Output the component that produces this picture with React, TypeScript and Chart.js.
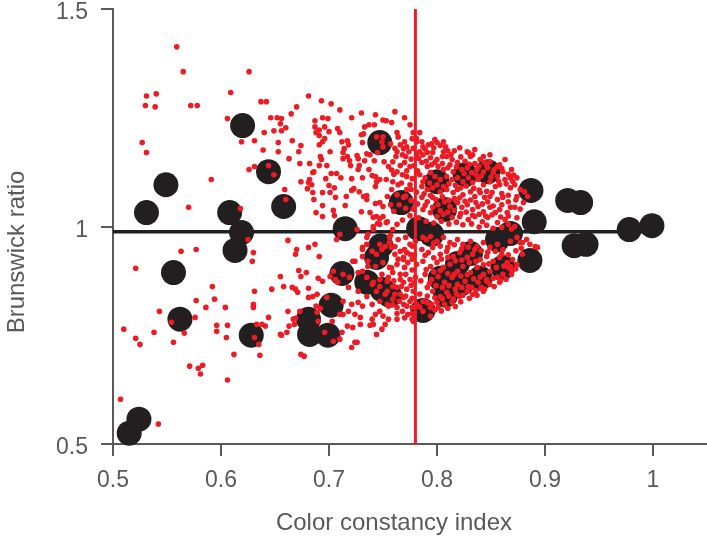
import React, { useEffect, useRef } from "react";
import { Chart, registerables } from "chart.js";

Chart.register(...registerables);

const X_TITLE = "Color constancy index";
const Y_TITLE = "Brunswick ratio";
const xTicks = [0.5, 0.6, 0.7, 0.8, 0.9, 1];
const yTicks = [0.5, 1, 1.5];
const xRange = [0.5, 1.05];
const yRange = [0.5, 1.5];
const criterionX = 0.78;
const meanRatio = 0.988;
const meanSpan = [0.5, 1.0];

// large black circles (individual observers)
const bigCircles: number[][] = [
  [0.515, 0.525], [0.524, 0.557], [0.531, 1.032], [0.549, 1.096], [0.556, 0.894], [0.562, 0.787],
  [0.620, 1.232], [0.608, 1.032], [0.619, 0.986], [0.613, 0.945], [0.628, 0.750], [0.644, 1.126],
  [0.658, 1.046], [0.681, 0.787], [0.682, 0.752], [0.699, 0.750], [0.702, 0.819], [0.712, 0.892],
  [0.715, 0.995], [0.735, 0.872], [0.744, 0.929], [0.749, 0.855], [0.747, 1.193], [0.748, 0.956],
  [0.756, 0.842], [0.767, 1.055], [0.783, 0.995], [0.787, 0.807], [0.795, 0.982], [0.800, 1.103],
  [0.807, 1.039], [0.808, 0.842], [0.803, 0.881], [0.819, 0.915], [0.823, 0.869], [0.831, 0.938],
  [0.826, 1.119], [0.847, 1.126], [0.840, 0.881], [0.856, 0.970], [0.861, 0.906], [0.868, 0.984],
  [0.886, 0.922], [0.890, 1.011], [0.887, 1.083], [0.921, 1.060], [0.933, 1.055], [0.927, 0.956],
  [0.938, 0.959], [0.978, 0.993], [0.999, 1.002],
];

// small red dots, sparse left part
const redDotsLeft: number[][] = [
  [0.559, 1.413], [0.565, 1.356], [0.531, 1.300], [0.540, 1.305], [0.530, 1.278], [0.539, 1.275],
  [0.572, 1.278], [0.578, 1.278], [0.609, 1.308], [0.606, 1.248], [0.619, 1.195], [0.626, 1.356],
  [0.527, 1.193], [0.531, 1.170], [0.591, 1.108], [0.626, 1.131], [0.570, 1.044], [0.618, 1.041],
  [0.563, 0.943], [0.577, 0.947], [0.521, 0.904], [0.592, 0.862], [0.577, 0.830], [0.594, 0.833],
  [0.543, 0.805], [0.586, 0.814], [0.604, 0.814], [0.576, 0.791], [0.554, 0.780], [0.510, 0.764],
  [0.538, 0.757], [0.566, 0.755], [0.596, 0.773], [0.596, 0.759], [0.606, 0.773], [0.521, 0.743],
  [0.525, 0.729], [0.556, 0.734], [0.605, 0.745], [0.612, 0.706], [0.571, 0.679], [0.579, 0.674],
  [0.583, 0.681], [0.581, 0.661], [0.606, 0.647], [0.507, 0.603], [0.542, 0.546], [0.625, 0.970],
  [0.630, 0.940], [0.629, 0.920], [0.631, 0.851], [0.630, 0.821], [0.630, 0.814], [0.633, 0.775],
  [0.631, 0.745], [0.635, 0.729], [0.636, 0.704],
];

// small red dots, upper middle part
const redDotsUpper: number[][] = [
  [0.681, 1.300], [0.637, 1.287], [0.642, 1.287], [0.670, 1.275], [0.693, 1.289], [0.702, 1.282],
  [0.665, 1.259], [0.646, 1.250], [0.652, 1.250], [0.656, 1.248], [0.655, 1.236], [0.649, 1.220],
  [0.656, 1.220], [0.660, 1.227], [0.640, 1.216], [0.631, 1.197], [0.653, 1.193], [0.666, 1.197],
  [0.674, 1.186], [0.639, 1.176], [0.653, 1.172], [0.672, 1.172], [0.663, 1.156], [0.673, 1.145],
  [0.631, 1.138], [0.644, 1.140], [0.649, 1.119], [0.659, 1.085], [0.660, 1.062], [0.687, 1.243],
  [0.687, 1.229], [0.691, 1.222], [0.694, 1.250], [0.699, 1.248], [0.696, 1.229], [0.700, 1.218],
  [0.688, 1.216], [0.691, 1.209], [0.696, 1.202], [0.694, 1.195], [0.691, 1.188], [0.708, 1.225],
  [0.710, 1.216], [0.701, 1.172], [0.712, 1.195], [0.717, 1.197], [0.718, 1.188], [0.714, 1.179],
  [0.713, 1.170], [0.692, 1.161], [0.693, 1.154], [0.698, 1.140], [0.686, 1.126], [0.682, 1.108],
  [0.681, 1.101], [0.684, 1.096], [0.697, 1.110], [0.702, 1.122], [0.700, 1.094], [0.705, 1.089],
  [0.694, 1.078], [0.701, 1.078], [0.707, 1.122], [0.711, 1.112], [0.713, 1.156], [0.717, 1.161],
  [0.719, 1.151], [0.720, 1.140], [0.721, 1.110], [0.723, 1.087], [0.716, 1.069], [0.706, 1.067],
  [0.686, 1.062], [0.694, 1.048], [0.704, 1.037], [0.705, 1.025], [0.715, 1.048], [0.688, 1.032],
  [0.694, 1.023], [0.730, 1.261], [0.733, 1.229], [0.737, 1.234], [0.742, 1.234], [0.743, 1.257],
  [0.750, 1.245], [0.753, 1.243], [0.730, 1.211], [0.732, 1.213], [0.731, 1.193], [0.726, 1.163],
  [0.727, 1.156], [0.728, 1.140], [0.727, 1.131], [0.731, 1.112], [0.735, 1.167], [0.738, 1.165],
  [0.733, 1.151], [0.737, 1.131], [0.740, 1.117], [0.743, 1.115], [0.744, 1.103], [0.747, 1.108],
  [0.753, 1.108], [0.743, 1.092], [0.721, 1.083], [0.728, 1.080], [0.732, 1.069], [0.735, 1.071],
  [0.730, 1.034], [0.743, 1.053], [0.747, 1.055], [0.750, 1.046], [0.741, 1.021], [0.744, 1.023],
  [0.747, 1.018], [0.750, 1.023], [0.753, 1.009], [0.745, 1.007], [0.741, 1.000], [0.754, 1.069],
  [0.744, 1.206], [0.750, 1.206], [0.749, 1.195], [0.750, 1.183], [0.745, 1.170], [0.751, 1.149],
  [0.755, 1.138], [0.742, 1.151], [0.682, 1.145], [0.691, 1.140], [0.685, 1.124], [0.674, 1.103],
  [0.680, 1.087], [0.685, 1.078], [0.735, 1.062], [0.738, 1.032], [0.761, 1.264], [0.770, 1.250],
  [0.775, 1.234], [0.710, 1.268], [0.721, 1.250],
];

// small red dots, dense upper-right part
const redDotsDenseUpper: number[][] = [
  [0.758, 1.239], [0.763, 1.216], [0.764, 1.206], [0.778, 1.216], [0.777, 1.202], [0.781, 1.202],
  [0.781, 1.195], [0.786, 1.195], [0.787, 1.183], [0.792, 1.188], [0.795, 1.190], [0.800, 1.193],
  [0.803, 1.186], [0.808, 1.183], [0.810, 1.174], [0.816, 1.174], [0.772, 1.183], [0.769, 1.179],
  [0.763, 1.172], [0.762, 1.161], [0.768, 1.165], [0.771, 1.161], [0.784, 1.172], [0.781, 1.165],
  [0.787, 1.165], [0.791, 1.170], [0.796, 1.170], [0.794, 1.158], [0.800, 1.154], [0.805, 1.161],
  [0.809, 1.161], [0.814, 1.154], [0.819, 1.147], [0.829, 1.170], [0.831, 1.161], [0.833, 1.165],
  [0.840, 1.154], [0.844, 1.147], [0.849, 1.149], [0.856, 1.138], [0.759, 1.149], [0.770, 1.147],
  [0.775, 1.138], [0.786, 1.147], [0.791, 1.138], [0.795, 1.142], [0.801, 1.138], [0.806, 1.131],
  [0.810, 1.135], [0.815, 1.126], [0.823, 1.131], [0.828, 1.135], [0.832, 1.124], [0.837, 1.131],
  [0.843, 1.126], [0.847, 1.135], [0.852, 1.124], [0.856, 1.115], [0.861, 1.126], [0.863, 1.108],
  [0.868, 1.112], [0.763, 1.126], [0.768, 1.119], [0.772, 1.115], [0.784, 1.119], [0.789, 1.112],
  [0.794, 1.124], [0.798, 1.115], [0.803, 1.108], [0.809, 1.115], [0.814, 1.108], [0.819, 1.112],
  [0.824, 1.103], [0.829, 1.112], [0.833, 1.101], [0.838, 1.108], [0.843, 1.096], [0.849, 1.103],
  [0.854, 1.092], [0.858, 1.096], [0.868, 1.089], [0.872, 1.096], [0.759, 1.103], [0.764, 1.096],
  [0.775, 1.096], [0.772, 1.085], [0.786, 1.092], [0.791, 1.085], [0.796, 1.089], [0.803, 1.080],
  [0.809, 1.085], [0.815, 1.078], [0.819, 1.085], [0.824, 1.073], [0.831, 1.080], [0.835, 1.069],
  [0.840, 1.078], [0.844, 1.067], [0.849, 1.069], [0.856, 1.062], [0.861, 1.067], [0.866, 1.057],
  [0.763, 1.073], [0.769, 1.067], [0.786, 1.067], [0.791, 1.057], [0.796, 1.067], [0.801, 1.050],
  [0.807, 1.057], [0.812, 1.046], [0.819, 1.055], [0.823, 1.044], [0.828, 1.050], [0.833, 1.039],
  [0.838, 1.046], [0.843, 1.034], [0.849, 1.044], [0.854, 1.032], [0.858, 1.039], [0.865, 1.032],
  [0.872, 1.044], [0.787, 1.039], [0.794, 1.032], [0.800, 1.023], [0.806, 1.028], [0.814, 1.021],
  [0.821, 1.023], [0.829, 1.016], [0.835, 1.023], [0.842, 1.011], [0.847, 1.021], [0.856, 1.009],
  [0.863, 1.016], [0.881, 1.080], [0.884, 1.069], [0.784, 1.216], [0.798, 1.200], [0.806, 1.195],
  [0.828, 1.172], [0.843, 1.161], [0.858, 1.142], [0.821, 1.181], [0.835, 1.177], [0.849, 1.165],
  [0.863, 1.154], [0.869, 1.131], [0.874, 1.112], [0.877, 1.085], [0.874, 1.069], [0.880, 1.055],
  [0.872, 1.000], [0.866, 1.005],
  [0.789, 1.178], [0.797, 1.181], [0.806, 1.172], [0.813, 1.165], [0.822, 1.160], [0.826, 1.150],
  [0.835, 1.145], [0.839, 1.139], [0.846, 1.140], [0.853, 1.131], [0.860, 1.133], [0.866, 1.120],
  [0.871, 1.118], [0.783, 1.157], [0.790, 1.150], [0.798, 1.147], [0.805, 1.145], [0.812, 1.142],
  [0.818, 1.137], [0.825, 1.122], [0.830, 1.143], [0.836, 1.119], [0.841, 1.116], [0.850, 1.113],
  [0.857, 1.104], [0.864, 1.098], [0.870, 1.104], [0.782, 1.128], [0.787, 1.103], [0.793, 1.100],
  [0.800, 1.096], [0.806, 1.092], [0.811, 1.098], [0.817, 1.095], [0.822, 1.089], [0.827, 1.093],
  [0.834, 1.088], [0.839, 1.084], [0.846, 1.081], [0.851, 1.078], [0.860, 1.076], [0.866, 1.072],
  [0.873, 1.061], [0.781, 1.079], [0.788, 1.075], [0.794, 1.071], [0.799, 1.062], [0.805, 1.068],
  [0.811, 1.060], [0.816, 1.064], [0.821, 1.066], [0.826, 1.058], [0.831, 1.061], [0.836, 1.055],
  [0.842, 1.052], [0.847, 1.057], [0.852, 1.047], [0.860, 1.050], [0.868, 1.044], [0.877, 1.040],
  [0.782, 1.052], [0.789, 1.048], [0.796, 1.044], [0.803, 1.036], [0.810, 1.033], [0.816, 1.037],
  [0.822, 1.030], [0.827, 1.033], [0.833, 1.026], [0.839, 1.028], [0.845, 1.024], [0.851, 1.027],
  [0.859, 1.022], [0.866, 1.024], [0.874, 1.020], [0.783, 1.020], [0.790, 1.012], [0.797, 1.008],
  [0.804, 1.012], [0.811, 1.006], [0.818, 1.010], [0.824, 1.004], [0.832, 1.006], [0.839, 0.999],
  [0.846, 1.003], [0.852, 0.996], [0.860, 0.998], [0.869, 0.994],
  [0.757, 1.190], [0.761, 1.180], [0.766, 1.188], [0.770, 1.195], [0.774, 1.172], [0.776, 1.155],
  [0.766, 1.140], [0.772, 1.128], [0.777, 1.110], [0.760, 1.120], [0.767, 1.100], [0.776, 1.085],
  [0.758, 1.085], [0.765, 1.050], [0.771, 1.042], [0.776, 1.060], [0.760, 1.035], [0.775, 1.025],
  [0.768, 1.015], [0.757, 1.050], [0.758, 1.130], [0.771, 1.070], [0.778, 1.040], [0.778, 1.180],
  [0.779, 1.140],
];

// small red dots, dense lower part
const redDotsDenseLower: number[][] = [
  [0.877, 0.963], [0.891, 0.954], [0.868, 0.908], [0.874, 0.913], [0.858, 0.872], [0.846, 0.874],
  [0.843, 0.851], [0.883, 0.970], [0.879, 0.936], [0.869, 0.890], [0.758, 0.952], [0.761, 0.936],
  [0.766, 0.943], [0.769, 0.929], [0.763, 0.913], [0.759, 0.894], [0.766, 0.890], [0.770, 0.906],
  [0.773, 0.917], [0.775, 0.936], [0.770, 0.947], [0.775, 0.878], [0.769, 0.872], [0.763, 0.860],
  [0.772, 0.856], [0.761, 0.844], [0.769, 0.837], [0.775, 0.828], [0.763, 0.814], [0.772, 0.817],
  [0.773, 0.798], [0.780, 0.966], [0.781, 0.913], [0.780, 0.883], [0.778, 0.851], [0.781, 0.821],
  [0.778, 0.782], [0.787, 0.975], [0.794, 0.977], [0.800, 0.966], [0.806, 0.975], [0.812, 0.963],
  [0.819, 0.970], [0.824, 0.959], [0.831, 0.966], [0.837, 0.954], [0.843, 0.963], [0.849, 0.952],
  [0.856, 0.959], [0.861, 0.947], [0.868, 0.966], [0.874, 0.975], [0.879, 0.963], [0.786, 0.947],
  [0.792, 0.940], [0.796, 0.952], [0.803, 0.936], [0.809, 0.943], [0.815, 0.931], [0.821, 0.940],
  [0.828, 0.929], [0.833, 0.936], [0.840, 0.924], [0.846, 0.931], [0.852, 0.920], [0.858, 0.929],
  [0.865, 0.917], [0.870, 0.924], [0.787, 0.920], [0.794, 0.908], [0.800, 0.917], [0.806, 0.906],
  [0.812, 0.913], [0.819, 0.897], [0.824, 0.908], [0.831, 0.894], [0.837, 0.906], [0.843, 0.890],
  [0.849, 0.897], [0.856, 0.883], [0.861, 0.890], [0.866, 0.906], [0.789, 0.890], [0.795, 0.878],
  [0.801, 0.885], [0.807, 0.872], [0.814, 0.883], [0.819, 0.867], [0.826, 0.874], [0.832, 0.860],
  [0.838, 0.872], [0.844, 0.856], [0.849, 0.867], [0.791, 0.860], [0.796, 0.851], [0.803, 0.839],
  [0.809, 0.849], [0.815, 0.833], [0.821, 0.839], [0.828, 0.851], [0.833, 0.844], [0.787, 0.828],
  [0.795, 0.821], [0.801, 0.814], [0.807, 0.821], [0.814, 0.826], [0.787, 0.805], [0.794, 0.794],
  [0.886, 0.959], [0.893, 0.952], [0.777, 0.787], [0.777, 0.814], [0.794, 0.814], [0.800, 0.826],
  [0.790, 0.970], [0.797, 0.962], [0.803, 0.955], [0.810, 0.952], [0.816, 0.958], [0.823, 0.949],
  [0.829, 0.953], [0.835, 0.947], [0.841, 0.944], [0.847, 0.941], [0.854, 0.943], [0.860, 0.937],
  [0.866, 0.935], [0.873, 0.944], [0.878, 0.950], [0.789, 0.934], [0.797, 0.928], [0.804, 0.925],
  [0.810, 0.929], [0.817, 0.921], [0.823, 0.923], [0.830, 0.917], [0.836, 0.920], [0.843, 0.912],
  [0.848, 0.914], [0.855, 0.906], [0.862, 0.909], [0.869, 0.900], [0.873, 0.903], [0.790, 0.901],
  [0.797, 0.896], [0.803, 0.899], [0.810, 0.892], [0.816, 0.890], [0.822, 0.886], [0.828, 0.889],
  [0.834, 0.880], [0.840, 0.884], [0.846, 0.878], [0.852, 0.881], [0.859, 0.877], [0.864, 0.879],
  [0.785, 0.875], [0.793, 0.869], [0.799, 0.864], [0.805, 0.860], [0.811, 0.864], [0.817, 0.856],
  [0.823, 0.860], [0.829, 0.862], [0.836, 0.853], [0.841, 0.860], [0.853, 0.862], [0.784, 0.845],
  [0.791, 0.840], [0.798, 0.836], [0.805, 0.834], [0.811, 0.840], [0.818, 0.845], [0.824, 0.842],
  [0.830, 0.835], [0.837, 0.842], [0.784, 0.815], [0.791, 0.825], [0.798, 0.808], [0.804, 0.806],
  [0.810, 0.812], [0.817, 0.816], [0.822, 0.827],
  [0.757, 0.980], [0.764, 0.970], [0.771, 0.975], [0.777, 0.955], [0.772, 0.940], [0.777, 0.925],
  [0.764, 0.925], [0.771, 0.890], [0.777, 0.900], [0.760, 0.875], [0.776, 0.865], [0.767, 0.862],
  [0.771, 0.840], [0.777, 0.835], [0.765, 0.828], [0.759, 0.820], [0.768, 0.805], [0.777, 0.800],
  [0.763, 0.800], [0.770, 0.790], [0.758, 0.905], [0.779, 0.870], [0.779, 0.935],
];

// small red dots, lower middle part
const redDotsMidLower: number[][] = [
  [0.741, 0.993], [0.747, 1.005], [0.754, 1.011], [0.763, 1.005], [0.759, 0.993], [0.731, 0.952],
  [0.735, 0.959], [0.740, 0.943], [0.744, 0.936], [0.749, 0.947], [0.752, 0.954], [0.756, 0.963],
  [0.761, 0.954], [0.775, 0.959], [0.722, 0.920], [0.731, 0.931], [0.736, 0.920], [0.743, 0.908],
  [0.750, 0.917], [0.756, 0.906], [0.769, 0.924], [0.704, 0.897], [0.713, 0.890], [0.719, 0.883],
  [0.727, 0.894], [0.735, 0.883], [0.741, 0.872], [0.747, 0.862], [0.754, 0.874], [0.759, 0.862],
  [0.766, 0.878], [0.708, 0.872], [0.718, 0.860], [0.727, 0.851], [0.735, 0.839], [0.744, 0.851],
  [0.752, 0.844], [0.759, 0.833], [0.766, 0.844], [0.713, 0.828], [0.721, 0.821], [0.731, 0.817],
  [0.740, 0.821], [0.747, 0.828], [0.755, 0.817], [0.769, 0.821], [0.713, 0.798], [0.729, 0.791],
  [0.740, 0.787], [0.750, 0.794], [0.763, 0.787], [0.717, 0.771], [0.738, 0.773], [0.662, 0.968],
  [0.670, 0.947], [0.669, 0.936], [0.681, 0.952], [0.687, 0.959], [0.691, 0.931], [0.655, 0.885],
  [0.672, 0.899], [0.674, 0.885], [0.679, 0.894], [0.658, 0.862], [0.666, 0.860], [0.669, 0.856],
  [0.671, 0.849], [0.647, 0.856], [0.681, 0.858], [0.681, 0.837], [0.685, 0.839], [0.689, 0.844],
  [0.644, 0.791], [0.662, 0.805], [0.669, 0.789], [0.668, 0.775], [0.663, 0.771], [0.673, 0.805],
  [0.690, 0.881], [0.694, 0.874], [0.688, 0.817], [0.692, 0.812], [0.698, 0.837], [0.638, 0.775],
  [0.641, 0.771], [0.655, 0.752], [0.661, 0.757], [0.690, 0.782], [0.696, 0.757], [0.703, 0.782],
  [0.704, 0.736], [0.710, 0.741], [0.727, 0.826], [0.718, 0.805], [0.724, 0.798], [0.710, 0.798],
  [0.722, 0.768], [0.729, 0.775], [0.724, 0.734], [0.721, 0.722], [0.743, 0.798], [0.747, 0.805],
  [0.754, 0.821], [0.741, 0.775], [0.744, 0.752], [0.752, 0.775], [0.755, 0.787], [0.701, 0.885],
  [0.706, 0.878], [0.724, 0.920], [0.731, 0.897], [0.731, 0.947], [0.736, 0.908], [0.749, 0.890],
  [0.755, 0.883], [0.740, 0.867], [0.754, 0.851], [0.747, 0.878], [0.747, 0.959], [0.756, 0.975],
  [0.735, 0.975], [0.736, 0.982], [0.726, 0.993], [0.707, 0.970], [0.710, 0.982], [0.726, 0.734],
  [0.674, 0.706], [0.677, 0.702], [0.656, 0.750], [0.667, 0.787], [0.689, 0.803], [0.712, 0.757],
  [0.749, 0.764],
];

const RED = "#ed1c24";
const BLACK = "#231f20";
const AXIS = "#58595b";
const FONT = '"Liberation Sans", Arial, Helvetica, sans-serif';

const toPts = (arr: number[][]) => arr.map(([x, y]) => ({ x, y }));

const titlePlugin = {
  id: "axisTitlesCustom",
  afterDraw(chart: any) {
    const { ctx, chartArea } = chart;
    ctx.save();
    ctx.fillStyle = AXIS;
    ctx.font = `24px ${FONT}`;
    ctx.textAlign = "center";
    ctx.textBaseline = "alphabetic";
    ctx.fillText(X_TITLE, chartArea.left + 281, chartArea.bottom + 86);
    ctx.translate(24, chartArea.top + 243);
    ctx.rotate(-Math.PI / 2);
    ctx.fillText(Y_TITLE, 0, 0);
    ctx.restore();
  },
};

export default function App() {
  const ref = useRef<HTMLCanvasElement | null>(null);
  useEffect(() => {
    if (!ref.current) return;
    const redAll = [...redDotsLeft, ...redDotsUpper, ...redDotsDenseUpper, ...redDotsDenseLower, ...redDotsMidLower];
    const chart = new Chart(ref.current, {
      type: "scatter",
      data: {
        datasets: [
          {
            label: "criterion",
            data: [{ x: criterionX, y: yRange[0] }, { x: criterionX, y: yRange[1] }],
            showLine: true,
            borderColor: RED,
            borderWidth: 3,
            pointRadius: 0,
            order: 0,
            clip: false,
          } as any,
          {
            label: "trials",
            data: toPts(redAll),
            backgroundColor: RED,
            borderWidth: 0,
            pointRadius: 2.8,
            order: 1,
            clip: false,
          },
          {
            label: "observers",
            data: toPts(bigCircles),
            backgroundColor: BLACK,
            borderWidth: 0,
            pointRadius: 12.5,
            order: 2,
            clip: false,
          },
          {
            label: "mean",
            data: [{ x: meanSpan[0], y: meanRatio }, { x: meanSpan[1], y: meanRatio }],
            showLine: true,
            borderColor: BLACK,
            borderWidth: 3.5,
            pointRadius: 0,
            order: 3,
            clip: false,
          } as any,
        ],
      },
      options: {
        animation: false,
        responsive: false,
        events: [],
        layout: { autoPadding: false, padding: { top: 9, left: 0, right: 0, bottom: 0 } },
        plugins: { legend: { display: false }, tooltip: { enabled: false } },
        scales: {
          x: {
            type: "linear",
            min: xRange[0],
            max: xRange[1],
            afterBuildTicks: (s: any) => { s.ticks = xTicks.map((v) => ({ value: v })); },
            afterFit: (s: any) => { s.height = 94; s.paddingLeft = 0; s.paddingRight = 0; },
            grid: { drawOnChartArea: false, drawTicks: true, tickLength: 12, color: AXIS, lineWidth: 2 },
            border: { display: true, color: AXIS, width: 2 },
            ticks: {
              color: AXIS,
              font: { family: FONT, size: 23 },
              padding: 11,
              maxRotation: 0,
              callback: (v: any) => String(v),
            },
          },
          y: {
            type: "linear",
            min: yRange[0],
            max: yRange[1],
            afterBuildTicks: (s: any) => { s.ticks = yTicks.map((v) => ({ value: v })); },
            afterFit: (s: any) => { s.width = 113; s.paddingTop = 0; s.paddingBottom = 0; },
            grid: { drawOnChartArea: false, drawTicks: true, tickLength: 12, color: AXIS, lineWidth: 2 },
            border: { display: true, color: AXIS, width: 2 },
            ticks: {
              color: AXIS,
              font: { family: FONT, size: 23 },
              padding: 13,
              labelOffset: 4,
              callback: (v: any) => String(v),
            },
          },
        },
      },
      plugins: [titlePlugin],
    });
    return () => chart.destroy();
  }, []);
  return (
    <div style={{ position: "absolute", left: 0, top: 0, width: 707, height: 538, background: "#fff" }}>
      <canvas ref={ref} width={707} height={538} style={{ display: "block", width: 707, height: 538 }} />
    </div>
  );
}
